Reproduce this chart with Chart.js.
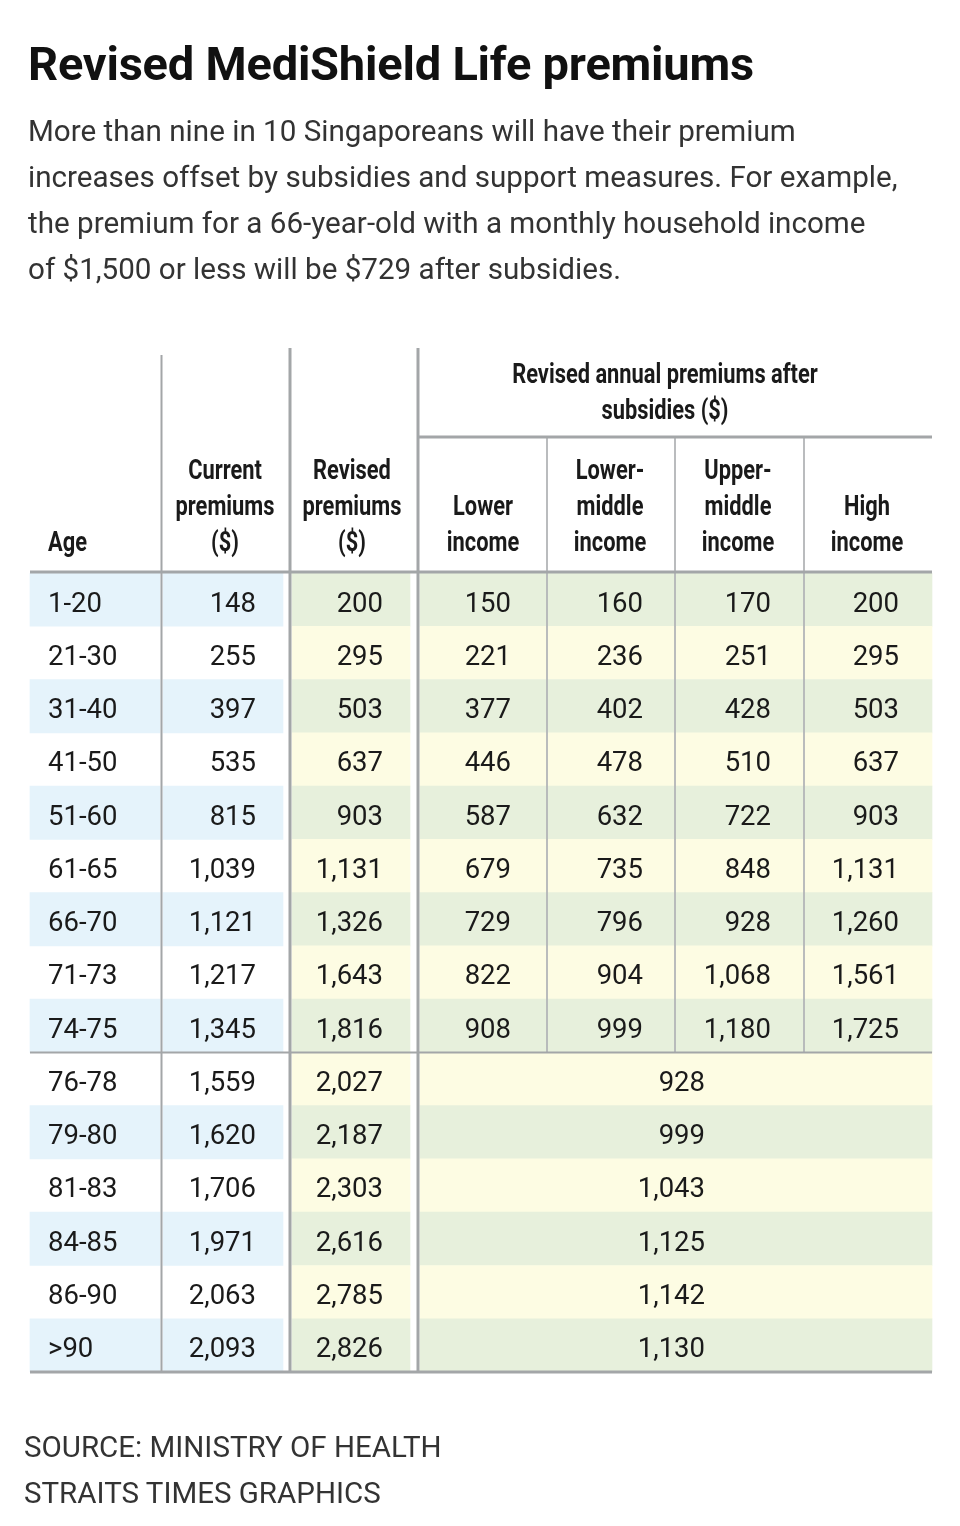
<!DOCTYPE html>
<html>
<head>
<meta charset="utf-8">
<script src="https://cdn.jsdelivr.net/npm/chart.js@4.4.1/dist/chart.umd.min.js"></script>
<style>
  body { margin: 0; background: #fff; }
  #wrap { position: relative; width: 960px; height: 1526px; }
  #chart { position: absolute; left: 0; top: 0; }
  .txt { position: absolute; left: 28px; font-family: "Roboto", sans-serif; color: #222; white-space: nowrap; }
  #title { top: 36px; font-size: 47px; font-weight: 700; color: #111; letter-spacing: -0.2px; }
  #sub { top: 108px; font-size: 29.6px; line-height: 46px; color: #333; }
  #source { left: 24px; top: 1424px; font-size: 29.5px; line-height: 46px; color: #333; }
</style>
</head>
<body>
<div id="wrap">
  <canvas id="chart" width="960" height="1526"></canvas>
  <div class="txt" id="title">Revised MediShield Life premiums</div>
  <div class="txt" id="sub">More than nine in 10 Singaporeans will have their premium<br>increases offset by subsidies and support measures. For example,<br>the premium for a 66-year-old with a monthly household income<br>of $1,500 or less will be $729 after subsidies.</div>
  <div class="txt" id="source">SOURCE: MINISTRY OF HEALTH<br>STRAITS TIMES GRAPHICS</div>
</div>
<script>
// ================= DATA =================
const ages = ["1-20", "21-30", "31-40", "41-50", "51-60", "61-65", "66-70", "71-73", "74-75",
              "76-78", "79-80", "81-83", "84-85", "86-90", ">90"];
const currentPremiums = [148, 255, 397, 535, 815, 1039, 1121, 1217, 1345, 1559, 1620, 1706, 1971, 2063, 2093];
const revisedPremiums = [200, 295, 503, 637, 903, 1131, 1326, 1643, 1816, 2027, 2187, 2303, 2616, 2785, 2826];
const lowerIncome = [150, 221, 377, 446, 587, 679, 729, 822, 908];
const lowerMiddleIncome = [160, 236, 402, 478, 632, 735, 796, 904, 999];
const upperMiddleIncome = [170, 251, 428, 510, 722, 848, 928, 1068, 1180];
const highIncome = [200, 295, 503, 637, 903, 1131, 1260, 1561, 1725];
const flatAfter75 = [928, 999, 1043, 1125, 1142, 1130];

// ================= LAYOUT =================
const BLUE = "#e5f3fb", GREEN = "#e7f0dc", YELLOW = "#fdfce3";
const cols = {
    age: [30, 160], current: [163, 283], revised: [292, 410],
    lower: [420, 546], lowerMid: [548, 674], upperMid: [676, 803], high: [805, 932]
};
const fmt = n => n.toLocaleString("en-US");
const split = ages.length - flatAfter75.length;

function bandColor(i) { return i % 2 === 0 ? GREEN : YELLOW; }
function blueColor(i) { return i % 2 === 0 ? BLUE : "rgba(0,0,0,0)"; }

function cellDataset(range, colorFn, rows) {
    return {
        data: ages.map((a, i) => (rows ? rows(i) : true) ? range : null),
        backgroundColor: ages.map((a, i) => colorFn(i)),
        barPercentage: 1, categoryPercentage: 1, grouped: false, borderWidth: 0
    };
}

const datasets = [
    cellDataset(cols.age, blueColor),
    cellDataset(cols.current, blueColor),
    cellDataset(cols.revised, bandColor),
    cellDataset(cols.lower, bandColor, i => i < split),
    cellDataset(cols.lowerMid, bandColor, i => i < split),
    cellDataset(cols.upperMid, bandColor, i => i < split),
    cellDataset(cols.high, bandColor, i => i < split),
    cellDataset([cols.lower[0], cols.high[1]], bandColor, i => i >= split)
];

const BODY = "27.5px Roboto, sans-serif";
const HEAD = "bold 28px Roboto, sans-serif";

const tablePlugin = {
    id: "tableText",
    afterDatasetsDraw(chart) {
        const ctx = chart.ctx, x = chart.scales.x, y = chart.scales.y;
        const px = v => x.getPixelForValue(v);
        ctx.save();
        ctx.fillStyle = "#1a1a1a";
        ctx.textBaseline = "middle";
        ctx.font = BODY;
        ages.forEach((a, i) => {
            const cy = y.getPixelForValue(i) + 5;
            ctx.textAlign = "left";
            ctx.fillText(a, px(48), cy);
            ctx.textAlign = "right";
            ctx.fillText(fmt(currentPremiums[i]), px(256), cy);
            ctx.fillText(fmt(revisedPremiums[i]), px(383), cy);
            if (i < split) {
                ctx.fillText(fmt(lowerIncome[i]), px(511), cy);
                ctx.fillText(fmt(lowerMiddleIncome[i]), px(643), cy);
                ctx.fillText(fmt(upperMiddleIncome[i]), px(771), cy);
                ctx.fillText(fmt(highIncome[i]), px(899), cy);
            } else {
                ctx.fillText(fmt(flatAfter75[i - split]), px(705), cy);
            }
        });

        // header (condensed bold)
        ctx.font = HEAD;
        ctx.textBaseline = "alphabetic";
        const narrow = (t, cx, by, align) => {
            ctx.save();
            ctx.translate(cx, by);
            ctx.scale(0.78, 1);
            ctx.textAlign = align;
            ctx.fillText(t, 0, 0);
            ctx.restore();
        };
        narrow("Age", px(48), 551, "left");
        const head = (lines, cx) => {
            const base = 551 - (lines.length - 1) * 36;
            lines.forEach((l, k) => narrow(l, px(cx), base + k * 36, "center"));
        };
        head(["Current", "premiums", "($)"], 225);
        head(["Revised", "premiums", "($)"], 352);
        head(["Lower", "income"], 483);
        head(["Lower-", "middle", "income"], 610);
        head(["Upper-", "middle", "income"], 738);
        head(["High", "income"], 867);
        narrow("Revised annual premiums after", px(665), 383, "center");
        narrow("subsidies ($)", px(665), 419, "center");

        // rules
        const top = y.getPixelForValue(0) - (y.getPixelForValue(1) - y.getPixelForValue(0)) / 2;
        const bottom = chart.chartArea.bottom;
        const splitY = (y.getPixelForValue(split - 1) + y.getPixelForValue(split)) / 2;
        ctx.strokeStyle = "#a3a6a8";
        const line = (x1, y1, x2, y2, w) => {
            ctx.lineWidth = w;
            ctx.beginPath(); ctx.moveTo(x1, y1); ctx.lineTo(x2, y2); ctx.stroke();
        };
        line(px(161.5), 355, px(161.5), bottom, 2);
        line(px(290), 348, px(290), bottom, 3);
        line(px(418), 348, px(418), bottom, 3);
        [547, 675, 804].forEach(v => line(px(v), 437, px(v), splitY, 1.5));
        line(px(419), 437, px(932), 437, 3);
        line(px(30), top - 1, px(932), top - 1, 3);
        line(px(30), splitY, px(932), splitY, 2);
        line(px(30), bottom, px(932), bottom, 3);
        ctx.restore();
    }
};

new Chart(document.getElementById("chart"), {
    type: "bar",
    data: { labels: ages, datasets: datasets },
    options: {
        indexAxis: "y",
        responsive: false,
        animation: false,
        layout: { padding: { top: 573, bottom: 154, left: 0, right: 0 } },
        scales: {
            x: { type: "linear", min: 0, max: 960, display: false },
            y: { type: "category", display: false }
        },
        plugins: { legend: { display: false }, tooltip: { enabled: false } }
    },
    plugins: [tablePlugin]
});
</script>
</body>
</html>
